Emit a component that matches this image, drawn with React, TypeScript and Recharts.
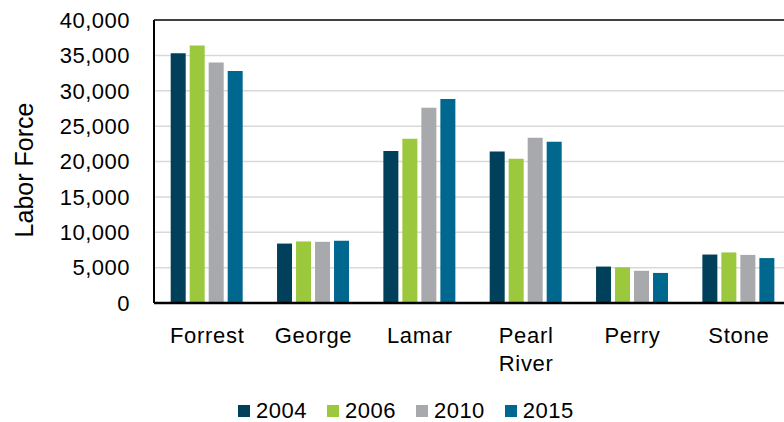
import { Bar, BarChart, CartesianGrid, Legend, ReferenceLine, XAxis, YAxis } from "recharts";

const counties = ["Forrest", "George", "Lamar", "Pearl River", "Perry", "Stone"];
const labor2004 = [35300, 8400, 21500, 21400, 5150, 6850];
const labor2006 = [36400, 8700, 23200, 20400, 5050, 7150];
const labor2010 = [34000, 8650, 27600, 23350, 4550, 6800];
const labor2015 = [32800, 8800, 28850, 22800, 4250, 6350];
const yTicks = [0, 5000, 10000, 15000, 20000, 25000, 30000, 35000, 40000];

const series = [
  { key: "y2004", name: "2004", color: "#01405b" },
  { key: "y2006", name: "2006", color: "#9bc83c" },
  { key: "y2010", name: "2010", color: "#a7a9ac" },
  { key: "y2015", name: "2015", color: "#00688f" },
];

const data = counties.map((county, i) => ({
  county,
  y2004: labor2004[i],
  y2006: labor2006[i],
  y2010: labor2010[i],
  y2015: labor2015[i],
}));

const FONT = '"Liberation Sans", Arial, sans-serif';

function CountyTick({ x, y, payload }: any) {
  const label: string = payload.value;
  const lines = label.length > 8 ? label.split(" ") : [label];
  return (
    <text x={x} y={y} textAnchor="middle" fontSize={22} letterSpacing={0.7} fontFamily={FONT} fill="#000">
      {lines.map((line, i) => (
        <tspan key={line} x={x} dy={i === 0 ? 38 : 27.7}>
          {line}
        </tspan>
      ))}
    </text>
  );
}

function AxisTitle() {
  return (
    <text
      x={33}
      y={170}
      transform="rotate(-90 33 170)"
      textAnchor="middle"
      fontSize={25}
      fontFamily={FONT}
      fill="#000"
    >
      Labor Force
    </text>
  );
}

function YearLegend({ payload }: any) {
  return (
    <div style={{ display: "flex", paddingLeft: 238, paddingTop: 7, fontFamily: FONT, fontSize: 22, color: "#000" }}>
      {(payload || []).map((p: any) => (
        <div key={p.value} style={{ display: "flex", alignItems: "center", marginRight: 20 }}>
          <span style={{ width: 12, height: 12, background: p.color, marginRight: 6, display: "inline-block" }} />
          <span style={{ lineHeight: "24px", letterSpacing: 0.5 }}>{p.value}</span>
        </div>
      ))}
    </div>
  );
}

export default function App() {
  return (
    <div style={{ position: "absolute", left: 0, top: 0, width: 784, height: 422, overflow: "hidden", background: "#fff" }}>
      <BarChart
        width={800}
        height={422}
        data={data}
        margin={{ top: 20, right: 8, bottom: 0, left: 0 }}
        barCategoryGap="15.7%"
        barGap={4}
      >
        <CartesianGrid stroke="#d9d9d9" strokeWidth={1.5} vertical={false} />
        <XAxis
          dataKey="county"
          height={89}
          tick={<CountyTick />}
          tickLine={false}
          tickSize={0}
          axisLine={{ stroke: "#000", strokeWidth: 2.5 }}
        />
        <YAxis
          width={154}
          domain={[0, 40000]}
          ticks={yTicks}
          tickFormatter={(v: number) => v.toLocaleString("en-US")}
          tick={{ fill: "#000", fontSize: 22, fontFamily: FONT, letterSpacing: 0.5 }}
          tickLine={false}
          tickSize={0}
          tickMargin={24}
          axisLine={{ stroke: "#000", strokeWidth: 2 }}
          label={{ content: <AxisTitle /> }}
        />
        <ReferenceLine y={40000} stroke="#404040" strokeWidth={2} />
        <Legend verticalAlign="bottom" wrapperStyle={{ height: 30 }} content={<YearLegend />} />
        {series.map((s) => (
          <Bar key={s.key} dataKey={s.key} name={s.name} fill={s.color} isAnimationActive={false} />
        ))}
      </BarChart>
    </div>
  );
}
